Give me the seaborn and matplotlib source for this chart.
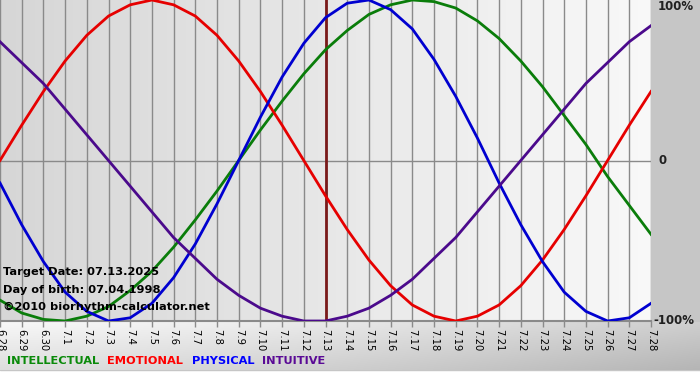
import numpy as np
import pandas as pd
import matplotlib
matplotlib.use("Agg")
import matplotlib.pyplot as plt
import seaborn as sns

# ---- data ----
dates = ["6.28", "6.29", "6.30"] + [f"7.{d}" for d in range(1, 29)]
physical = [-0.14, -0.40, -0.63, -0.82, -0.94, -1.00, -0.98, -0.89, -0.73, -0.52,
            -0.27, 0.00, 0.27, 0.52, 0.73, 0.89, 0.98, 1.00, 0.94, 0.82,
            0.63, 0.40, 0.14, -0.14, -0.40, -0.63, -0.82, -0.94, -1.00, -0.98, -0.89]
emotional = [0.00, 0.22, 0.43, 0.62, 0.78, 0.90, 0.97, 1.00, 0.97, 0.90,
             0.78, 0.62, 0.43, 0.22, 0.00, -0.22, -0.43, -0.62, -0.78, -0.90,
             -0.97, -1.00, -0.97, -0.90, -0.78, -0.62, -0.43, -0.22, 0.00, 0.22, 0.43]
intellectual = [-0.87, -0.95, -0.99, -1.00, -0.97, -0.91, -0.81, -0.69, -0.54, -0.37,
                -0.19, 0.00, 0.19, 0.37, 0.54, 0.69, 0.81, 0.91, 0.97, 1.00,
                0.99, 0.95, 0.87, 0.76, 0.62, 0.46, 0.28, 0.10, -0.10, -0.28, -0.46]
intuitive = [0.74, 0.61, 0.48, 0.32, 0.16, 0.00, -0.16, -0.32, -0.48, -0.61,
             -0.74, -0.84, -0.92, -0.97, -1.00, -1.00, -0.97, -0.92, -0.84, -0.74,
             -0.61, -0.48, -0.32, -0.16, 0.00, 0.16, 0.32, 0.48, 0.61, 0.74, 0.84]
series_names = ["INTELLECTUAL", "EMOTIONAL", "PHYSICAL", "INTUITIVE"]
line_colors = ["#0a7d0a", "#e60000", "#0000d0", "#4b0a8c"]
legend_colors = ["#0a8a0a", "#ff0000", "#0000ff", "#5a0a96"]
target_date = "7.13"
info_lines = ["Target Date: 07.13.2025", "Day of birth: 07.04.1998", "\u00a92010 biorhythm-calculator.net"]
right_labels = ["100%", "0", "-100%"]
right_values = [1, 0, -1]

rows = []
for name, vals in zip(series_names, [intellectual, emotional, physical, intuitive]):
    for i, v in enumerate(vals):
        rows.append({"day": i, "value": v, "series": name})
df = pd.DataFrame(rows)

# ---- figure ----
W, H = 700, 380
fig = plt.figure(figsize=(7, 3.8), dpi=100)
fig.patch.set_facecolor("white")

# background layer
bg = fig.add_axes([0, 0, 1, 1], zorder=0)
bg.set_xlim(0, W)
bg.set_ylim(H, 0)
bg.axis("off")
bg.add_patch(plt.Rectangle((0, 0), W, 370, color="#c6c6c6", zorder=0))
gx = np.linspace(0, 1, 200)[None, :]
gy = np.linspace(0, 1, 50)[:, None]
grad = 0.97 - 0.16 * gx ** 1.3 - 0.10 * gy
bg.imshow(np.dstack([grad, grad, grad]), extent=(0, W, 370, 322), aspect="auto", zorder=1)

# plot axes
left_px, right_px, top_px, bot_px = 0, 651, 0, 321
ax = fig.add_axes([left_px / W, 1 - bot_px / H, (right_px - left_px) / W, (bot_px - top_px) / H], zorder=2)
ax.set_xlim(0, len(dates) - 1)
ax.set_ylim(-1, 1)
pg = np.linspace(0.84, 0.975, 256)[None, :]
ax.imshow(np.dstack([pg, pg, pg]), extent=(0, len(dates) - 1, -1, 1), aspect="auto", zorder=0)

for i in range(len(dates)):
    ax.axvline(i, color="#8a8a8a", lw=1, zorder=1)
ax.axhline(0, color="#8a8a8a", lw=1, zorder=1)
ax.axhline(-1, color="#8a8a8a", lw=1.5, zorder=1, clip_on=False)
ax.axvline(dates.index(target_date), color="#7a1a1a", lw=2, zorder=2)

sns.lineplot(data=df, x="day", y="value", hue="series", hue_order=series_names,
             palette=dict(zip(series_names, line_colors)), linewidth=2,
             legend=False, ax=ax, zorder=3)
for ln in ax.get_lines():
    ln.set_solid_joinstyle("round")

for s in ax.spines.values():
    s.set_visible(False)
ax.set_xlabel("")
ax.set_ylabel("")
ax.set_yticks([])
ax.set_xticks(range(len(dates)))
ax.set_xticklabels(dates, rotation=270, fontsize=7.2, family="DejaVu Sans")
ax.tick_params(axis="x", length=4, width=1, color="#8a8a8a", pad=2)
for lbl in ax.get_xticklabels():
    lbl.set_va("top")
    lbl.set_ha("center")

# info text
for k, t in enumerate(info_lines):
    ax.text(0.004, 0.153 - k * 0.055, t, transform=ax.transAxes, fontsize=8.2,
            fontweight="bold", color="black", ha="left", va="center", zorder=4)

# right labels
yt = ax.get_yaxis_transform()
ax.text(1.011, 1.0, right_labels[0], transform=yt, fontsize=8.5, fontweight="bold",
        ha="left", va="top", clip_on=False, color="#202020")
ax.text(1.011, right_values[1], right_labels[1], transform=yt, fontsize=8.5, fontweight="bold",
        ha="left", va="center", clip_on=False, color="#202020")
ax.text(1.003, right_values[2], right_labels[2], transform=yt, fontsize=8.5, fontweight="bold",
        ha="left", va="center", clip_on=False, color="#202020")

# legend words
leg_x = [7, 107, 192, 262]
for name, col, x in zip(series_names, legend_colors, leg_x):
    bg.text(x, 361, name, fontsize=8.2, fontweight="bold", color=col, ha="left", va="center",
            zorder=5)

fig.savefig("out.png", dpi=100)
